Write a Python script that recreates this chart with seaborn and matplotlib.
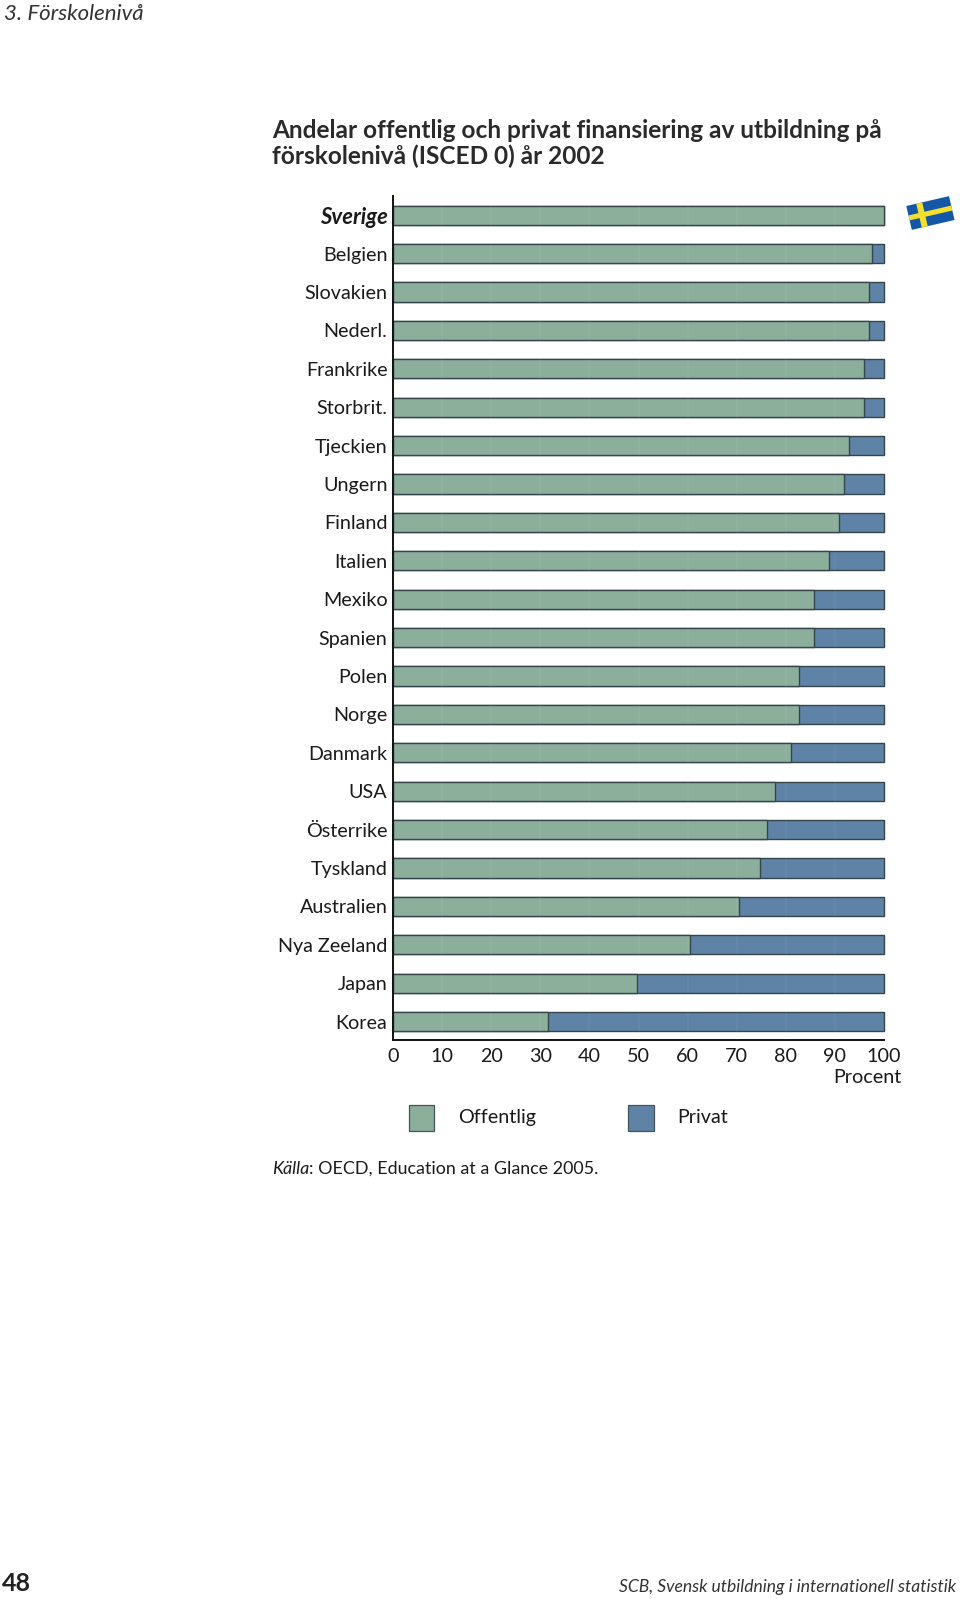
import matplotlib
matplotlib.use("Agg")
import matplotlib.pyplot as plt
from matplotlib.patches import Polygon, Rectangle
from matplotlib.transforms import Affine2D
import seaborn as sns
import pandas as pd

countries = ["Sverige", "Belgien", "Slovakien", "Nederl.", "Frankrike", "Storbrit.", "Tjeckien",
             "Ungern", "Finland", "Italien", "Mexiko", "Spanien", "Polen", "Norge", "Danmark",
             "USA", "Österrike", "Tyskland", "Australien", "Nya Zeeland", "Japan", "Korea"]
offentlig = [100, 97.5, 97, 97, 96, 96, 92.8, 91.8, 90.8, 88.8, 85.8, 85.8, 82.7, 82.7, 81, 77.7, 76.2,
             74.7, 70.5, 60.4, 49.7, 31.5]
privat = [0, 2.5, 3, 3, 4, 4, 7.2, 8.2, 9.2, 11.2, 14.2, 14.2, 17.3, 17.3, 19, 22.3, 23.8,
          25.3, 29.5, 39.6, 50.3, 68.5]
xticks = [0, 10, 20, 30, 40, 50, 60, 70, 80, 90, 100]
GREEN = "#8CAF9C"
BLUE = "#5F83A6"
EDGE = "#34454c"
W, H = 960, 1599
S = 960 / 941.5  # layout positions below were measured on a 941.5 px wide view

sns.set_theme(style="white")
plt.rcParams["font.family"] = ["Lato", "DejaVu Sans"]
df = pd.DataFrame({"land": countries, "offentlig": offentlig,
                   "total": [a + b for a, b in zip(offentlig, privat)]})

fig = plt.figure(figsize=(W / 100, H / 100), dpi=100)
L, R, T, B = 393, 884, 196, 1040
ax = fig.add_axes([L / W, 1 - B / H, (R - L) / W, (B - T) / H])
sns.barplot(data=df, y="land", x="total", color=BLUE, saturation=1, width=0.5,
            edgecolor=EDGE, linewidth=1.0, ax=ax, orient="y")
sns.barplot(data=df, y="land", x="offentlig", color=GREEN, saturation=1, width=0.5,
            edgecolor=EDGE, linewidth=1.0, ax=ax, orient="y")
for p in ax.patches:
    p.set_clip_on(False)
ax.vlines(xticks[1:-1], -0.5, 21.48, color="white", alpha=0.035, linewidth=1.5, zorder=5)
ax.set_xlim(0, 100)
ax.set_ylim(21.48, -0.5)
ax.set_xlabel("")
ax.set_ylabel("")
ax.set_xticks(xticks)
ax.set_xticklabels([str(v) for v in xticks], fontsize=14.2, color="#1a1a1a")
ax.tick_params(axis="x", length=0, pad=6)
ax.tick_params(axis="y", length=0, pad=4)
for lab in ax.get_yticklabels():
    lab.set_fontsize(14.2)
    lab.set_color("#1a1a1a")
    if lab.get_text() == "Sverige":
        lab.set_fontstyle("italic")
        lab.set_fontweight("bold")
        lab.set_fontsize(15.8)
for s in ["top", "right"]:
    ax.spines[s].set_visible(False)
for s in ["left", "bottom"]:
    ax.spines[s].set_color("#111111")
    ax.spines[s].set_linewidth(1.4)


def ftext(x, y, s, **kw):
    kw.setdefault("color", "#1a1a1a")
    kw.setdefault("va", "center")
    return fig.text(x * S / W, 1 - y * S / H, s, **kw)


ftext(4, 14, "3. Förskolenivå", fontsize=16, style="italic", color="#333333")
ftext(267, 128, "Andelar offentlig och privat finansiering av utbildning på",
      fontsize=17.6, fontweight="bold", color="#2a2a2a")
ftext(267, 153, "förskolenivå (ISCED 0) år 2002", fontsize=17.6, fontweight="bold", color="#2a2a2a")
ftext(884, 1057, "Procent", fontsize=14.2, ha="right")
for x, col, lab, tx in [(401, GREEN, "Offentlig", 449), (616, BLUE, "Privat", 664)]:
    fig.add_artist(Rectangle((x * S / W, 1 - 1109 * S / H), 25 * S / W, 25 * S / H,
                             transform=fig.transFigure,
                             facecolor=col, edgecolor="#44555a", linewidth=0.9))
    ftext(tx, 1096, lab, fontsize=14.2)
src = ftext(267, 1146, "Källa", fontsize=12.85, style="italic")
fig.canvas.draw()
src_end = src.get_window_extent().x1
fig.text(src_end / W, 1 - 1146 * S / H, ": OECD, Education at a Glance 2005.", fontsize=12.85,
         color="#1a1a1a", va="center")
ftext(2, 1553, "48", fontsize=18, fontweight="bold", color="#222222")
ftext(938, 1556, "SCB, Svensk utbildning i internationell statistik", fontsize=12.6,
      style="italic", ha="right", color="#333333")


# Swedish flag, tilted
def flag_poly(x0, y0, x1, y1, color):
    rot = Affine2D().rotate_deg_around(912, 209, -13)
    pts = rot.transform([(x0, y0), (x1, y0), (x1, y1), (x0, y1)])
    fig.add_artist(Polygon([(px * S / W, 1 - py * S / H) for px, py in pts], closed=True,
                           transform=fig.transFigure, facecolor=color, edgecolor="none"))


flag_poly(891, 197, 934, 221, "#1457A6")
flag_poly(901, 197, 907, 221, "#F4DF2A")
flag_poly(891, 206.5, 934, 211.5, "#F4DF2A")

fig.savefig("out.png", dpi=100, facecolor="white")
